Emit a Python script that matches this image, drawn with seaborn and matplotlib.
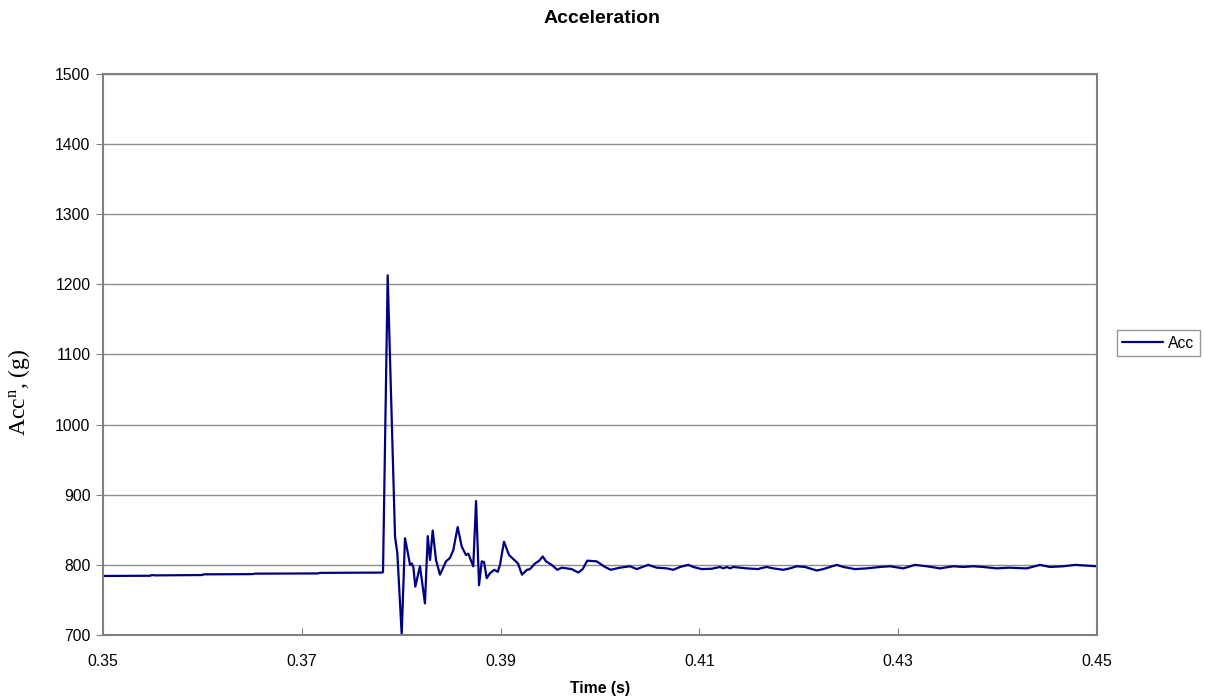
import matplotlib
matplotlib.use("Agg")
import matplotlib.pyplot as plt
import seaborn as sns
import pandas as pd

time_s = [0.35000, 0.35473, 0.35493, 0.35523, 0.36000, 0.36010, 0.36499, 0.36529,
          0.37163, 0.37183, 0.37807, 0.37817, 0.37864, 0.37938, 0.37961, 0.38005,
          0.38038, 0.38055, 0.38089, 0.38106, 0.38122, 0.38142, 0.38189, 0.38239,
          0.38267, 0.38290, 0.38317, 0.38350, 0.38390, 0.38451, 0.38491, 0.38524,
          0.38568, 0.38609, 0.38652, 0.38675, 0.38725, 0.38753, 0.38783, 0.38810,
          0.38833, 0.38860, 0.38893, 0.38937, 0.38971, 0.38994, 0.39034, 0.39085,
          0.39175, 0.39215, 0.39266, 0.39296, 0.39346, 0.39389, 0.39424, 0.39457,
          0.39514, 0.39570, 0.39615, 0.39665, 0.39715, 0.39782, 0.39826, 0.39872,
          0.39967, 0.40050, 0.40108, 0.40201, 0.40302, 0.40369, 0.40486, 0.40570,
          0.40671, 0.40737, 0.40805, 0.40888, 0.40939, 0.41023, 0.41124, 0.41207,
          0.41241, 0.41275, 0.41308, 0.41341, 0.41476, 0.41592, 0.41610, 0.41677,
          0.41743, 0.41844, 0.41911, 0.41979, 0.42062, 0.42180, 0.42246, 0.42381,
          0.42448, 0.42565, 0.42683, 0.42817, 0.42918, 0.43051, 0.43169, 0.43287,
          0.43421, 0.43554, 0.43655, 0.43756, 0.43856, 0.43991, 0.44108, 0.44293,
          0.44427, 0.44527, 0.44661, 0.44779, 0.45000]
acc_g = [784.2, 784.5, 785.5, 785.0, 785.5, 786.5, 786.8, 787.5,
         787.8, 788.6, 789.0, 790.0, 1213.0, 840.0, 817.0, 701.0,
         838.0, 826.0, 800.0, 802.0, 797.0, 769.0, 798.0, 745.0,
         841.0, 807.0, 849.0, 807.0, 786.0, 805.0, 810.0, 821.0,
         854.0, 826.0, 814.0, 816.0, 798.0, 891.0, 771.0, 805.0,
         804.0, 781.0, 788.0, 793.0, 790.0, 800.0, 833.0, 814.0,
         802.0, 786.0, 793.0, 794.0, 802.0, 806.0, 812.0, 805.0,
         800.0, 793.0, 796.0, 795.0, 794.0, 789.0, 794.0, 806.0,
         805.0, 797.0, 793.0, 796.0, 798.0, 794.0, 800.0, 796.0,
         795.0, 793.0, 797.0, 800.0, 797.0, 794.0, 794.5, 797.0,
         795.0, 797.0, 795.0, 797.0, 795.0, 794.0, 795.0, 797.0,
         795.0, 793.0, 795.0, 798.0, 797.0, 792.0, 794.0, 800.0,
         797.0, 794.0, 795.0, 797.0, 798.0, 795.0, 800.0, 798.0,
         795.0, 798.0, 797.0, 798.0, 797.0, 795.0, 796.0, 795.0,
         800.0, 797.0, 798.0, 800.0, 798.0]

x_ticks = [0.35, 0.37, 0.39, 0.41, 0.43, 0.45]
x_tick_labels = ["0.35", "0.37", "0.39", "0.41", "0.43", "0.45"]
y_ticks = [700, 800, 900, 1000, 1100, 1200, 1300, 1400, 1500]

df = pd.DataFrame({"Time": time_s, "Acc": acc_g})

sns.set_style("white", {"xtick.bottom": True, "ytick.left": True,
                        "text.color": "black", "axes.labelcolor": "black",
                        "xtick.color": "black", "ytick.color": "black"})
plt.rcParams["font.family"] = ["Liberation Sans", "DejaVu Sans"]
plt.rcParams["mathtext.fontset"] = "custom"
plt.rcParams["mathtext.rm"] = "Liberation Serif"
plt.rcParams["mathtext.it"] = "Liberation Serif:italic"

fig = plt.figure(figsize=(12.05, 6.97), dpi=100)
ax = fig.add_axes([103 / 1205, 62 / 697, 994 / 1205, 561 / 697])

sns.lineplot(data=df, x="Time", y="Acc", ax=ax, color="#000080", linewidth=1.6,
             estimator=None, sort=False, label="Acc")

ax.set_xlim(0.35, 0.45)
ax.set_ylim(700, 1500)
ax.set_xticks(x_ticks)
ax.set_xticklabels(x_tick_labels)
ax.set_yticks(y_ticks)
ax.yaxis.grid(True, color="#8c8c8c", linewidth=1.0)
ax.xaxis.grid(False)
for s in ax.spines.values():
    s.set_color("#808080")
    s.set_linewidth(1.5)
ax.tick_params(axis="x", direction="in", length=5, color="#808080", labelcolor="black",
               labelsize=11.3, pad=14)
ax.tick_params(axis="y", direction="out", length=5, color="#808080", labelcolor="black",
               labelsize=11.3, pad=4)
ax.set_axisbelow(True)

ax.set_xlabel("Time (s)", fontsize=11.3, fontweight="bold", color="black", labelpad=8)
ax.set_ylabel(r"Acc$^{\mathrm{n}}$, (g)", fontsize=17, family="Liberation Serif", color="black")
ax.yaxis.set_label_coords((32 - 103) / 994, (635 - 392) / 561)
fig.suptitle("Acceleration", fontsize=14, fontweight="bold", color="black", y=0.985)

leg = ax.legend(loc="center left", bbox_to_anchor=(1117 / 1205, 354 / 697),
                bbox_transform=fig.transFigure, frameon=True, fancybox=False,
                fontsize=11.3, handlelength=2.6, borderpad=0.35, handletextpad=0.3,
                borderaxespad=0)
leg.get_frame().set_edgecolor("#808080")
leg.get_frame().set_linewidth(1.0)
for t in leg.get_texts():
    t.set_color("black")

fig.savefig("out.png", dpi=100)
